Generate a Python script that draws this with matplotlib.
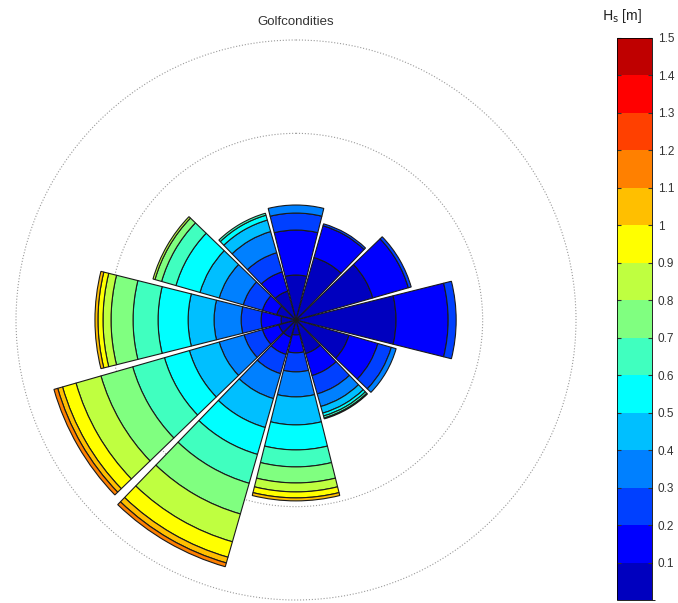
import numpy as np
import matplotlib
matplotlib.use("Agg")
import matplotlib.pyplot as plt
from matplotlib.colors import ListedColormap, BoundaryNorm
from matplotlib.cm import ScalarMappable

plt.rcParams['font.family'] = ['Liberation Sans', 'DejaVu Sans']

################### DATA

# wave directions (deg, clockwise from north), sector centres
directions = [0, 30, 60, 90, 120, 150, 180, 210, 240, 270, 300, 330]

# Hs class edges [m]
hs_edges = [0.0, 0.1, 0.2, 0.3, 0.4, 0.5, 0.6, 0.7, 0.8, 0.9, 1.0, 1.1, 1.2, 1.3, 1.4, 1.5]
cbar_ticks = [0.1, 0.2, 0.3, 0.4, 0.5, 0.6, 0.7, 0.8, 0.9, 1.0, 1.1, 1.2, 1.3, 1.4, 1.5]
cbar_labels = ["0.1", "0.2", "0.3", "0.4", "0.5", "0.6", "0.7", "0.8", "0.9", "1", "1.1", "1.2", "1.3", "1.4", "1.5"]

# occurrence [%] per Hs class (0-0.1, 0.1-0.2, ...) for each direction
freq_000 = [2.41, 2.41, 0.91, 0.43]
freq_030 = [3.48, 1.77, 0.11]
freq_060 = [4.28, 1.98, 0.16]
freq_090 = [5.36, 2.79, 0.43]
freq_120 = [2.95, 1.61, 0.75, 0.27]
freq_150 = [1.87, 1.23, 1.02, 0.70, 0.37, 0.16, 0.11, 0.05]
freq_180 = [0.80, 0.96, 1.02, 1.34, 1.50, 1.34, 0.91, 0.86, 0.48, 0.32, 0.16]
freq_210 = [0.96, 0.96, 1.07, 1.39, 1.61, 1.50, 1.61, 1.71, 1.55, 0.86, 0.32, 0.21]
freq_240 = [0.96, 0.91, 1.02, 1.39, 1.66, 1.39, 1.77, 1.77, 1.39, 0.75, 0.27, 0.21]
freq_270 = [0.80, 1.07, 1.07, 1.45, 1.39, 1.61, 1.34, 1.18, 0.43, 0.27, 0.16]
freq_300 = [1.07, 0.80, 1.07, 1.34, 1.07, 1.34, 0.80, 0.37, 0.11]
freq_330 = [1.61, 1.07, 1.07, 1.18, 0.64, 0.27, 0.11]

freqs = [freq_000, freq_030, freq_060, freq_090, freq_120, freq_150,
         freq_180, freq_210, freq_240, freq_270, freq_300, freq_330]

# frequency circles [%]
rings = [10, 15]

################### COLOURS (matlab jet(15))

jet15 = [(0, 0, .75), (0, 0, 1), (0, .25, 1), (0, .5, 1), (0, .75, 1),
         (0, 1, 1), (.25, 1, .75), (.5, 1, .5), (.75, 1, .25), (1, 1, 0),
         (1, .75, 0), (1, .5, 0), (1, .25, 0), (1, 0, 0), (.75, 0, 0)]
cmap = ListedColormap(jet15)
norm = BoundaryNorm(hs_edges, cmap.N)

################### PLOT

fig = plt.figure(figsize=(6.78, 6.03), dpi=100)

rmax = 15.3
r_px = 280 / 15 * rmax
cx, cy = 296, 603 - 320
ax = fig.add_axes([(cx - r_px) / 678, (cy - r_px) / 603, 2 * r_px / 678, 2 * r_px / 603],
                  projection='polar')
ax.set_theta_zero_location('N')
ax.set_theta_direction(-1)

width = np.deg2rad(28)
for d, f in zip(directions, freqs):
    bottom = 0.0
    for k, h in enumerate(f):
        ax.bar(np.deg2rad(d), h, width=width, bottom=bottom,
               color=cmap(norm(hs_edges[k] + 0.05)), edgecolor='#1a1a1a',
               linewidth=0.8, zorder=3)
        bottom += h

ax.set_ylim(0, rmax)
ax.set_yticks(rings)
ax.set_yticklabels([])
ax.set_xticks([])
ax.yaxis.grid(True, linestyle=':', color='#9a9a9a', linewidth=0.8)
ax.xaxis.grid(False)
ax.spines['polar'].set_visible(False)
ax.set_facecolor('none')

fig.text(cx / 678, 1 - 22 / 603, "Golfcondities", ha='center', va='center',
         fontsize=9.5, color='#333333')

# colorbar
cax = fig.add_axes([617 / 678, 3 / 603, 35 / 678, 562 / 603])
sm = ScalarMappable(norm=norm, cmap=cmap)
cb = fig.colorbar(sm, cax=cax, ticks=cbar_ticks)
cb.ax.set_yticklabels(cbar_labels)
cb.ax.tick_params(direction='in', length=3, width=0.8, left=True, right=True,
                  labelsize=8.5, labelcolor='#333333', color='#333333', pad=4)
cb.outline.set_linewidth(0.6)
fig.text(622 / 678, 1 - 16 / 603, r"$\mathrm{H_s}$ [m]", ha='center', va='center',
         fontsize=10, color='#222222')

fig.savefig("out.png", dpi=100)
